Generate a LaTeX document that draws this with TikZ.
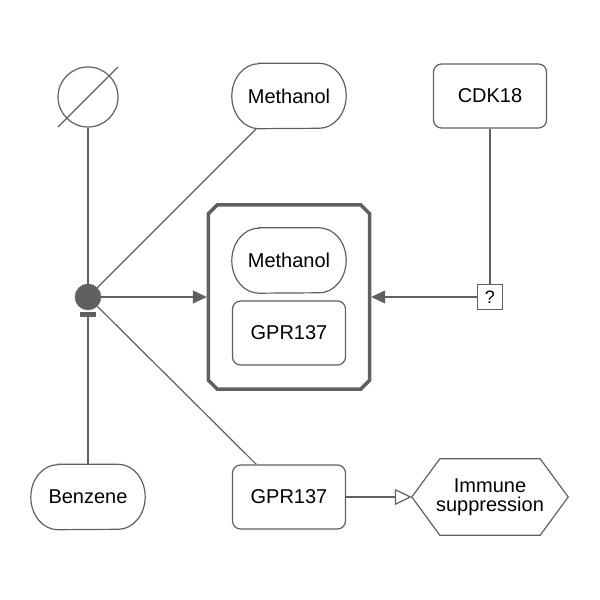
\documentclass[tikz,border=0pt]{standalone}
\usepackage{fontspec}
\setmainfont{Liberation Sans}
\usetikzlibrary{arrows.meta,calc}
\definecolor{sbgngray}{HTML}{606060}
\newcommand{\chemical}[1]{\draw[entity] ($(#1.north west)+(27,0)$) -- ($(#1.north east)+(-27,0)$)
	arc[start angle=90, end angle=-90, x radius=27, y radius=32.5] -- ($(#1.south west)+(27,0)$)
	arc[start angle=270, end angle=90, x radius=27, y radius=32.5] -- cycle;}
\newcommand{\phenotype}[1]{\draw[entity] (#1.west) -- ($(#1.north west)+(28,0)$) -- ($(#1.north east)+(-28,0)$)
	-- (#1.east) -- ($(#1.south east)+(-28,0)$) -- ($(#1.south west)+(28,0)$) -- cycle;}
\newcommand{\complexshape}[1]{\draw[entity, line width=3.5pt] ($(#1.north west)+(9,0)$) -- ($(#1.north east)+(-9,0)$)
	-- ($(#1.north east)+(0,-9)$) -- ($(#1.south east)+(0,9)$) -- ($(#1.south east)+(-9,0)$)
	-- ($(#1.south west)+(9,0)$) -- ($(#1.south west)+(0,9)$) -- ($(#1.north west)+(0,-9)$) -- cycle;}
\begin{document}
\begin{tikzpicture}[x=1pt, y=1pt,
	every node/.style={font=\fontsize{20}{19.5}\selectfont, inner sep=0pt},
	entity/.style={draw=sbgngray, line width=1.2pt},
	conn/.style={draw=sbgngray, line width=1.2pt},
	chem/.style={minimum width=114pt, minimum height=65pt},
	macro/.style={entity, rounded corners=8pt, minimum width=113pt, minimum height=64pt},
	pheno/.style={minimum width=156pt, minimum height=76pt, align=center},
	cplx/.style={minimum width=161pt, minimum height=184pt},
	process/.style={circle, draw=sbgngray, fill=sbgngray, minimum size=26pt},
	sinknode/.style={circle, entity, minimum size=60pt},
	uncertain/.style={entity, fill=white, minimum size=25pt, font=\fontsize{18}{18}\selectfont}]
	\useasboundingbox (0,0) rectangle (600,600);
	\node[sinknode] (sink) at (88,503) {};
	\draw[entity] ($(sink)+(-30,-30)$) -- ($(sink)+(30,30)$);
	\node[chem] (met) at (289,504) {Methanol};
	\chemical{met}
	\node[macro] (cdk) at (490,504) {CDK18};
	\node[process] (proc) at (88,303) {};
	\node[cplx] (complex) at (289,303) {};
	\complexshape{complex}
	\node[chem] (metin) at (289,339.5) {Methanol};
	\chemical{metin}
	\node[macro] (gprin) at (289,267) {GPR137};
	\node[uncertain] (q) at (490,303) {?};
	\node[chem] (benz) at (88,103) {Benzene};
	\chemical{benz}
	\node[macro] (gpr) at (289,103) {GPR137};
	\node[pheno] (immune) at (490,103) {Immune\\suppression};
	\phenotype{immune}
	\draw[conn] (sink) -- (proc);
	\draw[conn] (met) -- (proc);
	\draw[conn] (proc) -- (gpr);
	\draw[conn] (cdk) -- (q);
	\draw[conn, -{Triangle[length=14pt, width=13pt]}, shorten >=1.5pt] (proc) -- (complex);
	\draw[conn, -{Triangle[length=14pt, width=13pt]}, shorten >=1.5pt] (q) -- (complex);
	\draw[conn, -{Bar[width=16pt, line width=4.5pt]}, shorten >=2pt] (benz) -- (proc);
	\draw[conn, -{Triangle[open, length=17pt, width=16pt]}] (gpr) -- (immune);
\end{tikzpicture}
\end{document}
